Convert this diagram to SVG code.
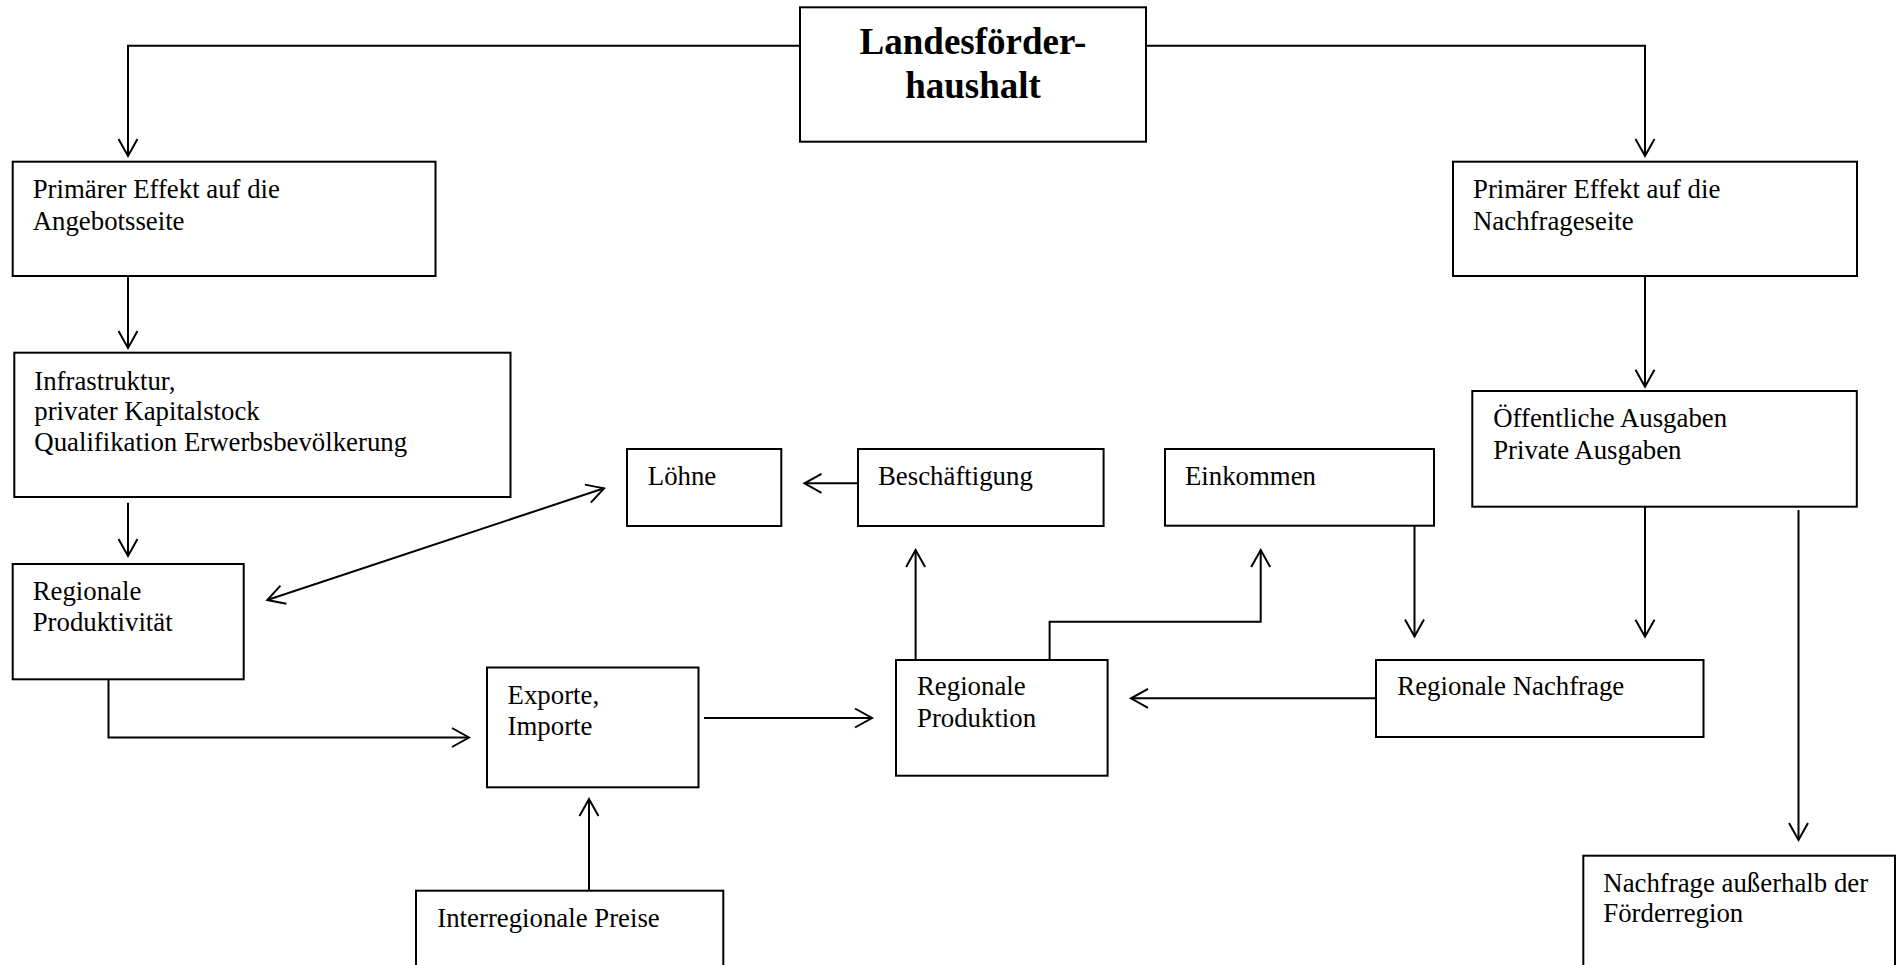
<svg xmlns="http://www.w3.org/2000/svg" width="1899" height="965" viewBox="0 0 1899 965">
<style>
  .box { fill: #ffffff; stroke: #000000; stroke-width: 2; }
  .t { font-family: "Liberation Serif", "Times New Roman", serif; font-size: 26.8px; fill: #000000; }
  .title { font-family: "Liberation Serif", "Times New Roman", serif; font-size: 37px; font-weight: bold; fill: #000000; text-anchor: middle; }
  .c { fill: none; stroke: #000000; stroke-width: 2; marker-end: url(#arr); }
  .dbl { marker-start: url(#arrs); }
</style>
<defs>
  <marker id="arr" markerUnits="userSpaceOnUse" viewBox="-20 -12 22 24" refX="0" refY="0" markerWidth="22" markerHeight="24" orient="auto" overflow="visible">
    <path d="M-17,-9.5 L0,0 L-17,9.5" fill="none" stroke="#000000" stroke-width="2"/>
  </marker>
  <marker id="arrs" markerUnits="userSpaceOnUse" viewBox="-20 -12 22 24" refX="0" refY="0" markerWidth="22" markerHeight="24" orient="auto-start-reverse" overflow="visible">
    <path d="M-17,-9.5 L0,0 L-17,9.5" fill="none" stroke="#000000" stroke-width="2"/>
  </marker>
</defs>
<rect width="1899" height="965" fill="#ffffff"/>
<g id="connectors">
  <polyline class="c" points="800,45.7 128,45.7 128,156"/>
  <polyline class="c" points="1146,45.7 1645,45.7 1645,156"/>
  <line class="c" x1="128" y1="276" x2="128" y2="348"/>
  <line class="c" x1="128" y1="502.7" x2="128" y2="556"/>
  <line class="c dbl" x1="267.3" y1="600" x2="604" y2="488.3"/>
  <polyline class="c" points="108.5,679.3 108.5,737.5 469,737.5"/>
  <line class="c" x1="704" y1="718" x2="872" y2="718"/>
  <line class="c" x1="589" y1="890.7" x2="589" y2="799"/>
  <line class="c" x1="915.6" y1="660" x2="915.6" y2="550"/>
  <line class="c" x1="858" y1="483.3" x2="804.5" y2="483.3"/>
  <polyline class="c" points="1049.6,660 1049.6,621.7 1260.7,621.7 1260.7,550"/>
  <line class="c" x1="1414.5" y1="525.7" x2="1414.5" y2="636.5"/>
  <line class="c" x1="1645" y1="276" x2="1645" y2="386.7"/>
  <line class="c" x1="1645" y1="506.7" x2="1645" y2="636.7"/>
  <line class="c" x1="1376" y1="698.3" x2="1131" y2="698.3"/>
  <line class="c" x1="1798.5" y1="510" x2="1798.5" y2="840"/>
</g>
<g id="landesfoerderhaushalt">
  <rect class="box" x="800" y="7.3" width="346" height="134.4"/>
  <text class="title" x="973" y="54">Landesförder-</text>
  <text class="title" x="973" y="98.3">haushalt</text>
</g>
<g id="primaer-angebot">
  <rect class="box" x="12.7" y="161.7" width="422.8" height="114.3"/>
  <text class="t" x="32.7" y="197.5">Primärer Effekt auf die</text>
  <text class="t" x="32.7" y="229.5">Angebotsseite</text>
</g>
<g id="primaer-nachfrage">
  <rect class="box" x="1453" y="161.7" width="404" height="114.3"/>
  <text class="t" x="1473" y="197.5">Primärer Effekt auf die</text>
  <text class="t" x="1473" y="229.5">Nachfrageseite</text>
</g>
<g id="infrastruktur">
  <rect class="box" x="14.3" y="352.7" width="496.2" height="144.3"/>
  <text class="t" x="34.3" y="389.5">Infrastruktur,</text>
  <text class="t" x="34.3" y="420">privater Kapitalstock</text>
  <text class="t" x="34.3" y="450.5">Qualifikation Erwerbsbevölkerung</text>
</g>
<g id="produktivitaet">
  <rect class="box" x="12.7" y="564" width="231" height="115.3"/>
  <text class="t" x="32.7" y="599.5">Regionale</text>
  <text class="t" x="32.7" y="630.5">Produktivität</text>
</g>
<g id="loehne">
  <rect class="box" x="627" y="449" width="154.3" height="77"/>
  <text class="t" x="647.8" y="485">Löhne</text>
</g>
<g id="beschaeftigung">
  <rect class="box" x="858" y="449" width="245.6" height="77"/>
  <text class="t" x="878" y="485">Beschäftigung</text>
</g>
<g id="einkommen">
  <rect class="box" x="1165" y="449" width="269" height="76.7"/>
  <text class="t" x="1185" y="485">Einkommen</text>
</g>
<g id="ausgaben">
  <rect class="box" x="1472.3" y="391" width="384.5" height="115.7"/>
  <text class="t" x="1493.2" y="427">Öffentliche Ausgaben</text>
  <text class="t" x="1493.2" y="458.7">Private Ausgaben</text>
</g>
<g id="exporte">
  <rect class="box" x="487" y="667.5" width="211.5" height="119.8"/>
  <text class="t" x="507.6" y="703.5">Exporte,</text>
  <text class="t" x="507.6" y="735.3">Importe</text>
</g>
<g id="produktion">
  <rect class="box" x="896" y="660" width="211.6" height="115.7"/>
  <text class="t" x="917" y="695.3">Regionale</text>
  <text class="t" x="917" y="727">Produktion</text>
</g>
<g id="regionale-nachfrage">
  <rect class="box" x="1376" y="660" width="327.5" height="77"/>
  <text class="t" x="1397.3" y="695.3">Regionale Nachfrage</text>
</g>
<g id="interregionale-preise">
  <rect class="box" x="416" y="890.7" width="307.3" height="100"/>
  <text class="t" x="437.3" y="927">Interregionale Preise</text>
</g>
<g id="nachfrage-ausserhalb">
  <rect class="box" x="1583.3" y="855.7" width="311.7" height="140"/>
  <text class="t" x="1603.3" y="892">Nachfrage außerhalb der</text>
  <text class="t" x="1603.3" y="922">Förderregion</text>
</g>
</svg>
